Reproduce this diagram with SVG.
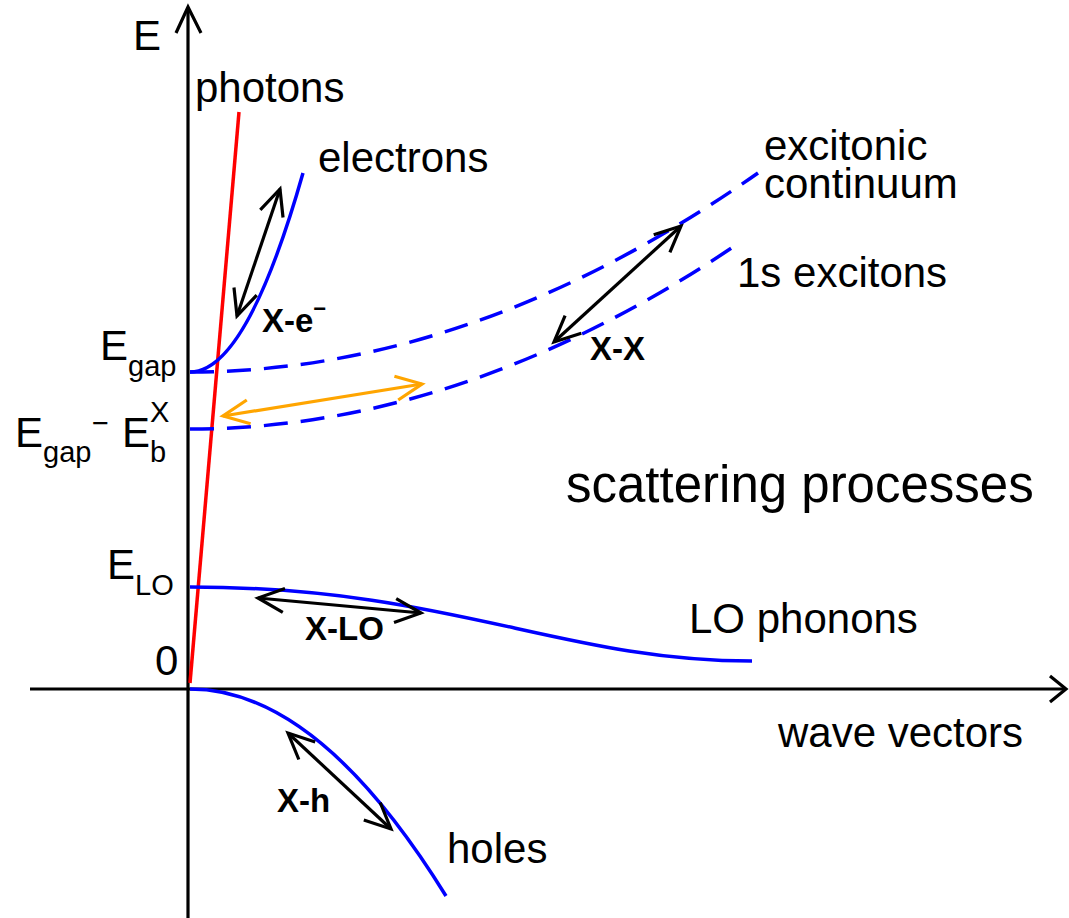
<svg xmlns="http://www.w3.org/2000/svg" width="1069" height="918" viewBox="0 0 1069 918">
<style>
text{font-family:"Liberation Sans",Arial,sans-serif;fill:#000}
.lbl{font-size:42px}
.sub{font-size:29px}
.bold{font-size:33px;font-weight:bold}
.axis{fill:none;stroke:#000;stroke-width:3.2}
.curve{fill:none;stroke:#0000FF;stroke-width:3.5}
.dash{fill:none;stroke:#0000FF;stroke-width:3.5;stroke-dasharray:24 13}
.arr{fill:none;stroke:#000;stroke-width:3.2;marker-start:url(#ah);marker-end:url(#ah)}
.arro{fill:none;stroke:#FFA500;stroke-width:3.2;marker-start:url(#aho);marker-end:url(#aho)}
</style>
<defs>
<marker id="ah" markerUnits="userSpaceOnUse" orient="auto-start-reverse" refX="0" refY="0" markerWidth="40" markerHeight="40" viewBox="-30 -20 40 40" overflow="visible">
<path d="M-26,-12 L0,0 L-26,12" fill="none" stroke="#000" stroke-width="3.2"/>
</marker>
<marker id="aho" markerUnits="userSpaceOnUse" orient="auto-start-reverse" refX="0" refY="0" markerWidth="40" markerHeight="40" viewBox="-30 -20 40 40" overflow="visible">
<path d="M-26,-12 L0,0 L-26,12" fill="none" stroke="#FFA500" stroke-width="3.2"/>
</marker>
</defs>
<rect width="1069" height="918" fill="#fff"/>

<g id="axes">
<line class="axis" x1="188" y1="918" x2="188" y2="8"/>
<path class="axis" d="M176,33 L188,7 L201,33"/>
<line class="axis" x1="30" y1="689" x2="1066" y2="689"/>
<path class="axis" d="M1050,676 L1066,689 L1050,702"/>
<text class="lbl" x="133" y="50">E</text>
<text class="lbl" x="778" y="747">wave vectors</text>
<text class="lbl" x="155" y="675">0</text>
</g>

<g id="photons">
<line x1="190" y1="683" x2="239" y2="112" stroke="#FF0000" stroke-width="3.5"/>
<text class="lbl" x="195" y="102">photons</text>
</g>

<g id="electrons">
<path class="curve" d="M190,372 Q246.5,372 303,173"/>
<text class="lbl" x="318" y="172">electrons</text>
</g>

<g id="excitonic-continuum">
<path class="dash" d="M190,372 Q474,372 758,173"/>
<text class="lbl" x="764" y="160">excitonic</text>
<text class="lbl" x="764" y="198">continuum</text>
</g>

<g id="excitons-1s">
<path class="dash" d="M190,429 Q464,429 739,243"/>
<text class="lbl" x="737" y="287">1s excitons</text>
</g>

<g id="lo-phonons">
<path class="curve" d="M190,587 C450,587 560,661 752,661"/>
<text class="lbl" x="689" y="633">LO phonons</text>
</g>

<g id="holes">
<path class="curve" d="M190,689 Q318,689 446,896"/>
<text class="lbl" x="447" y="863">holes</text>
</g>

<g id="energy-labels">
<text class="lbl" x="100" y="360">E</text>
<text class="sub" x="128" y="376">gap</text>
<text class="lbl" x="15" y="447">E</text>
<text class="sub" x="43" y="462">gap</text>
<text class="sub" x="92" y="433">−</text>
<text class="lbl" x="122" y="447">E</text>
<text class="sub" x="150" y="422">X</text>
<text class="sub" x="150" y="462">b</text>
<text class="lbl" x="107" y="579">E</text>
<text class="sub" x="135" y="595">LO</text>
</g>

<g id="title">
<text x="566" y="502" style="font-size:51px">scattering processes</text>
</g>

<g id="connectors">
<line class="arr" x1="237" y1="316" x2="280" y2="189"/>
<line class="arr" x1="554" y1="342" x2="681" y2="226"/>
<line class="arr" x1="258" y1="598" x2="421" y2="613"/>
<line class="arr" x1="288" y1="733" x2="391" y2="829"/>
<line class="arro" x1="223" y1="416" x2="422" y2="384"/>
</g>

<g id="process-labels">
<text class="bold" x="262" y="332">X-e<tspan style="font-size:22px" dy="-16">−</tspan></text>
<text class="bold" x="590" y="360">X-X</text>
<text class="bold" x="305" y="640">X-LO</text>
<text class="bold" x="277" y="812">X-h</text>
</g>
</svg>
